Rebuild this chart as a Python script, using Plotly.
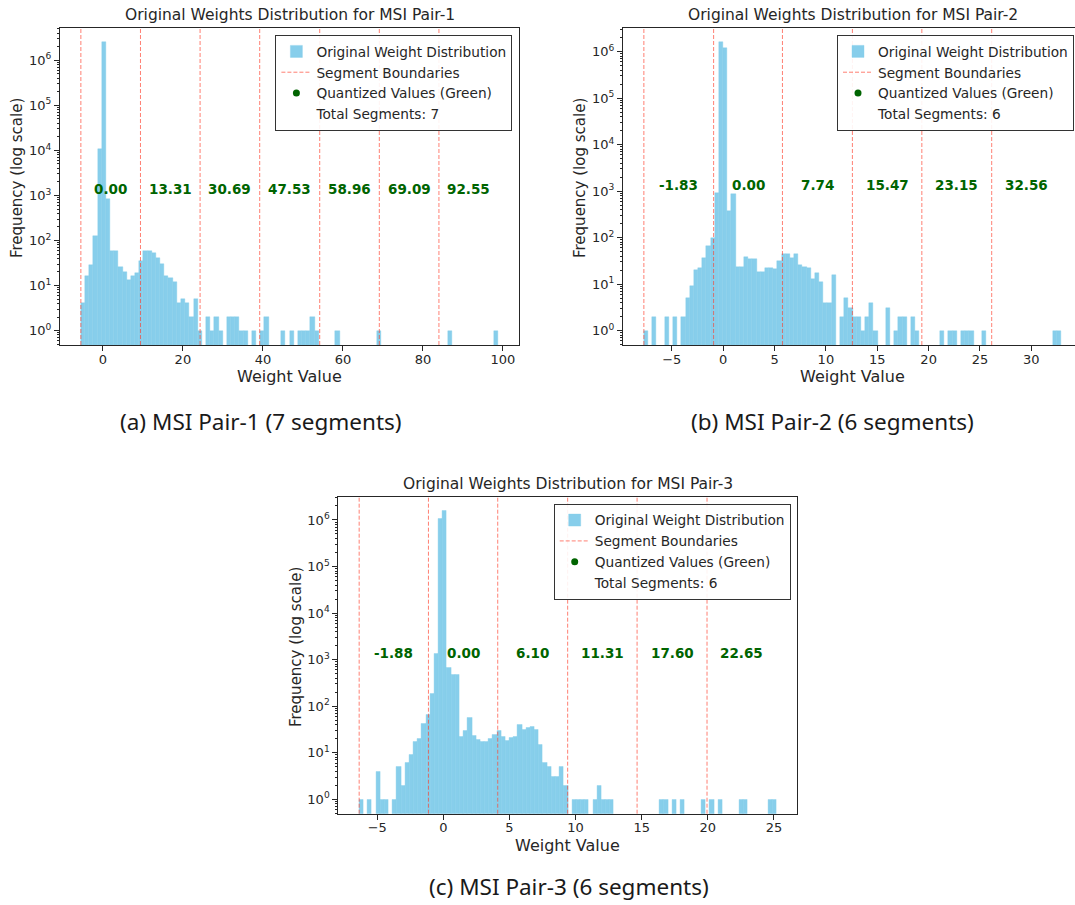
import math
import plotly.graph_objects as go

W, H = 1075, 905

# ---------------- data ----------------
titles = ["Original Weights Distribution for MSI Pair-1",
          "Original Weights Distribution for MSI Pair-2",
          "Original Weights Distribution for MSI Pair-3"]
captions = ["(a) MSI Pair-1 (7 segments)",
            "(b) MSI Pair-2 (6 segments)",
            "(c) MSI Pair-3 (6 segments)"]
total_labels = ["Total Segments: 7", "Total Segments: 6", "Total Segments: 6"]

# weight range (min, max) of each pair
p1_range = [-5.5, 98.8]
p2_range = [-7.72, 32.9]
p3_range = [-6.37, 25.19]

# histogram counts, 100 equal bins over the weight range
p1_counts = [4, 16, 28, 128, 10700, 2500000, 850, 60, 60, 26,
             20, 13, 16, 19, 35, 60, 60, 53, 40, 30,
             16, 15, 12, 4, 5, 4, 2, 5, 1, 0,
             2, 1, 2, 1, 0, 2, 2, 2, 1, 1,
             0, 1, 0, 1, 2, 0, 0, 0, 1, 0,
             1, 0, 1, 1, 1, 2, 1, 0, 0, 0,
             0, 1, 0, 0, 0, 0, 0, 0, 0, 0,
             0, 1, 0, 0, 0, 0, 0, 0, 0, 0,
             0, 0, 0, 0, 0, 0, 0, 0, 1, 0,
             0, 0, 0, 0, 0, 0, 0, 0, 0, 1]
p2_counts = [1, 0, 2, 0, 0, 2, 0, 2, 0, 2,
             5, 9, 20, 22, 36, 67, 98, 910, 1570000, 1180000,
             370, 870, 23, 23, 38, 34, 34, 18, 18, 22,
             22, 21, 31, 45, 45, 36, 44, 26, 23, 22,
             13, 17, 11, 4, 4, 16, 0, 2, 5, 3,
             2, 2, 1, 2, 4, 1, 0, 0, 3, 0,
             1, 2, 2, 0, 2, 1, 0, 0, 0, 0,
             0, 1, 0, 1, 1, 0, 1, 1, 1, 0,
             0, 1, 0, 0, 0, 0, 0, 0, 0, 0,
             0, 0, 0, 0, 0, 0, 0, 0, 1, 1]
p3_counts = [1, 0, 1, 0, 4, 1, 1, 0, 1, 5,
             2, 6, 9, 17, 20, 43, 66, 187, 1330, 1040000,
             1550000, 660, 475, 475, 22, 30, 57, 23, 19, 17,
             17, 20, 24, 30, 22, 18, 21, 22, 40, 31,
             34, 36, 32, 15, 6, 5, 3, 3, 5, 2,
             0, 1, 1, 1, 1, 0, 1, 2, 1, 1,
             1, 0, 0, 0, 0, 0, 0, 0, 0, 0,
             0, 0, 1, 1, 0, 1, 0, 1, 0, 0,
             0, 0, 1, 0, 1, 0, 1, 0, 0, 0,
             0, 1, 1, 0, 0, 0, 0, 0, 1, 1]

# segment boundaries (dashed lines) and quantized values (green labels)
p1_bounds = [-5.5, 9.4, 24.3, 39.2, 54.2, 69.1, 84.0]
p2_bounds = [-7.72, -0.93, 5.77, 12.58, 19.34, 26.14]
p3_bounds = [-6.37, -1.13, 4.11, 9.40, 14.65, 19.94]
p1_labels = ["0.00", "13.31", "30.69", "47.53", "58.96", "69.09", "92.55"]
p2_labels = ["-1.83", "0.00", "7.74", "15.47", "23.15", "32.56"]
p3_labels = ["-1.88", "0.00", "6.10", "11.31", "17.60", "22.65"]

x_ticks_1 = [0, 20, 40, 60, 80, 100]
x_ticks_2 = [-5, 0, 5, 10, 15, 20, 25, 30]
x_ticks_3 = [-5, 0, 5, 10, 15, 20, 25]
y_tick_powers = [0, 1, 2, 3, 4, 5, 6]

# ---------------- styles / layout geometry ----------------
SKY = "#87CEEB"
RED = "rgba(255,60,40,0.65)"
GREEN = "#006400"
AXC = "#262626"
TXT = "#262626"
FONT = "DejaVu Sans"
DASH = "4px,2px"

AX_W, AX_H = 459.0, 317.0
geom = [dict(left=60.0, top=28.0, cap_x=261.0, cap_y=422.0),
        dict(left=623.0, top=28.0, cap_x=832.0, cap_y=422.0),
        dict(left=338.3, top=496.7, cap_x=569.0, cap_y=886.0)]

panels = [
    dict(rng=p1_range, counts=p1_counts, bounds=p1_bounds, labels=p1_labels, xt=x_ticks_1),
    dict(rng=p2_range, counts=p2_counts, bounds=p2_bounds, labels=p2_labels, xt=x_ticks_2),
    dict(rng=p3_range, counts=p3_counts, bounds=p3_bounds, labels=p3_labels, xt=x_ticks_3),
]

minor_vals = [k * 10 ** p for p in range(-1, 8) for k in range(2, 10)]

fig = go.Figure()
layout = {}
annotations = []
shapes = []


def px(x):
    return x / W


def py(y):
    return 1 - y / H


for i, (P, G) in enumerate(zip(panels, geom)):
    n = i + 1
    xa = "x" if n == 1 else f"x{n}"
    ya = "y" if n == 1 else f"y{n}"
    xkey = "xaxis" if n == 1 else f"xaxis{n}"
    ykey = "yaxis" if n == 1 else f"yaxis{n}"
    lg = "legend" if n == 1 else f"legend{n}"

    dmin, dmax = P["rng"]
    counts = P["counts"]
    nb = len(counts)
    bw = (dmax - dmin) / nb
    centers = [dmin + (k + 0.5) * bw for k in range(nb)]
    ys = [c if c > 0 else None for c in counts]

    fig.add_trace(go.Bar(x=centers, y=ys, width=bw, name="Original Weight Distribution",
                         marker=dict(color=SKY, line=dict(width=0.4, color=SKY)),
                         xaxis=xa, yaxis=ya, legend=lg, hoverinfo="skip"))
    fig.add_trace(go.Scatter(x=[None], y=[None], mode="lines", name="Segment Boundaries",
                             line=dict(color=RED, width=1, dash=DASH),
                             xaxis=xa, yaxis=ya, legend=lg))
    fig.add_trace(go.Scatter(x=[None], y=[None], mode="markers", name="Quantized Values (Green)",
                             marker=dict(color=GREEN, size=7),
                             xaxis=xa, yaxis=ya, legend=lg))
    fig.add_trace(go.Scatter(x=[None], y=[None], mode="markers", name=total_labels[i],
                             marker=dict(color="rgba(0,0,0,0)", size=1),
                             xaxis=xa, yaxis=ya, legend=lg))

    # axes ranges (matplotlib-like 5% margins)
    w = dmax - dmin
    xlo, xhi = dmin - 0.05 * w, dmax + 0.05 * w
    left = G["left"]
    right = left + AX_W
    if right > W:  # panel cut by the image edge
        frac = (W - left) / AX_W
        xhi = xlo + (xhi - xlo) * frac
        right = W
    M = math.log10(max(counts))
    top = G["top"]
    bottom = top + AX_H

    layout[xkey] = dict(domain=[px(left), px(right)], range=[xlo, xhi], anchor=ya,
                        showline=True, linecolor=AXC, linewidth=1, mirror=True,
                        ticks="outside", ticklen=5, tickwidth=1, tickcolor=AXC,
                        ticklabelstandoff=-3,
                        tickvals=P["xt"], showgrid=False, zeroline=False,
                        tickfont=dict(family=FONT, size=13, color=TXT))
    layout[ykey] = dict(domain=[py(bottom), py(top)], type="log", range=[-0.05 * M, 1.05 * M],
                        anchor=xa, showline=True, linecolor=AXC, linewidth=1,
                        mirror=(n != 2), ticks="outside", ticklen=5, tickwidth=1, tickcolor=AXC,
                        tickvals=[10 ** p for p in y_tick_powers],
                        ticktext=[f"10<sup>{p}</sup>" for p in y_tick_powers],
                        showgrid=False, zeroline=False,
                        tickfont=dict(family=FONT, size=13, color=TXT),
                        minor=dict(tickmode="array", tickvals=minor_vals, ticks="outside",
                                   ticklen=2.5, tickwidth=0.8, tickcolor=AXC, showgrid=False))

    # segment boundaries
    for b in P["bounds"]:
        shapes.append(dict(type="line", xref=xa, yref=f"{ya} domain", x0=b, x1=b, y0=0, y1=1,
                           line=dict(color=RED, width=1, dash=DASH), layer="above"))

    # quantized value labels
    edges = P["bounds"] + [dmax]
    for j, lab in enumerate(P["labels"]):
        xc = (edges[j] + edges[j + 1]) / 2
        annotations.append(dict(x=xc, y=3, xref=xa, yref=ya, text=f"<b>{lab}</b>",
                                showarrow=False, xanchor="center", yanchor="middle", yshift=6.5,
                                font=dict(family=FONT, size=13.5, color=GREEN)))

    # title
    annotations.append(dict(x=px(left + AX_W / 2), y=py(top - 13), xref="paper", yref="paper",
                            text=titles[i], showarrow=False, xanchor="center", yanchor="middle",
                            font=dict(family=FONT, size=15.5, color=TXT)))
    # x label
    annotations.append(dict(x=px(left + AX_W / 2), y=py(bottom + 31.5), xref="paper", yref="paper",
                            text="Weight Value", showarrow=False, xanchor="center", yanchor="middle",
                            font=dict(family=FONT, size=16, color=TXT)))
    # y label
    annotations.append(dict(x=px(left - 43), y=py(top + AX_H / 2 - 8.5), xref="paper", yref="paper",
                            text="Frequency (log scale)", showarrow=False, textangle=-90,
                            xanchor="center", yanchor="middle",
                            font=dict(family=FONT, size=15, color=TXT)))
    # caption
    annotations.append(dict(x=px(G["cap_x"]), y=py(G["cap_y"]), xref="paper", yref="paper",
                            text=captions[i], showarrow=False, xanchor="center", yanchor="middle",
                            font=dict(family="Noto Sans", size=22.5, color="#1a1a1a")))

    # legend
    layout[lg] = dict(x=min(px(left + AX_W - 6.6), px(1074)), y=py(top + 7),
                      xanchor="right", yanchor="top", bgcolor="rgba(255,255,255,0.9)",
                      bordercolor="#333333", borderwidth=1,
                      font=dict(family=FONT, size=13.7, color=TXT),
                      traceorder="normal", itemwidth=30)

fig.update_layout(width=W, height=H, autosize=False,
                  margin=dict(l=0, r=0, t=0, b=0),
                  paper_bgcolor="white", plot_bgcolor="white",
                  bargap=0, barmode="overlay", showlegend=True,
                  annotations=annotations, shapes=shapes, **layout)

fig.write_html("out.html", config={"displayModeBar": False},
               post_script="document.body.style.margin='0px';")
